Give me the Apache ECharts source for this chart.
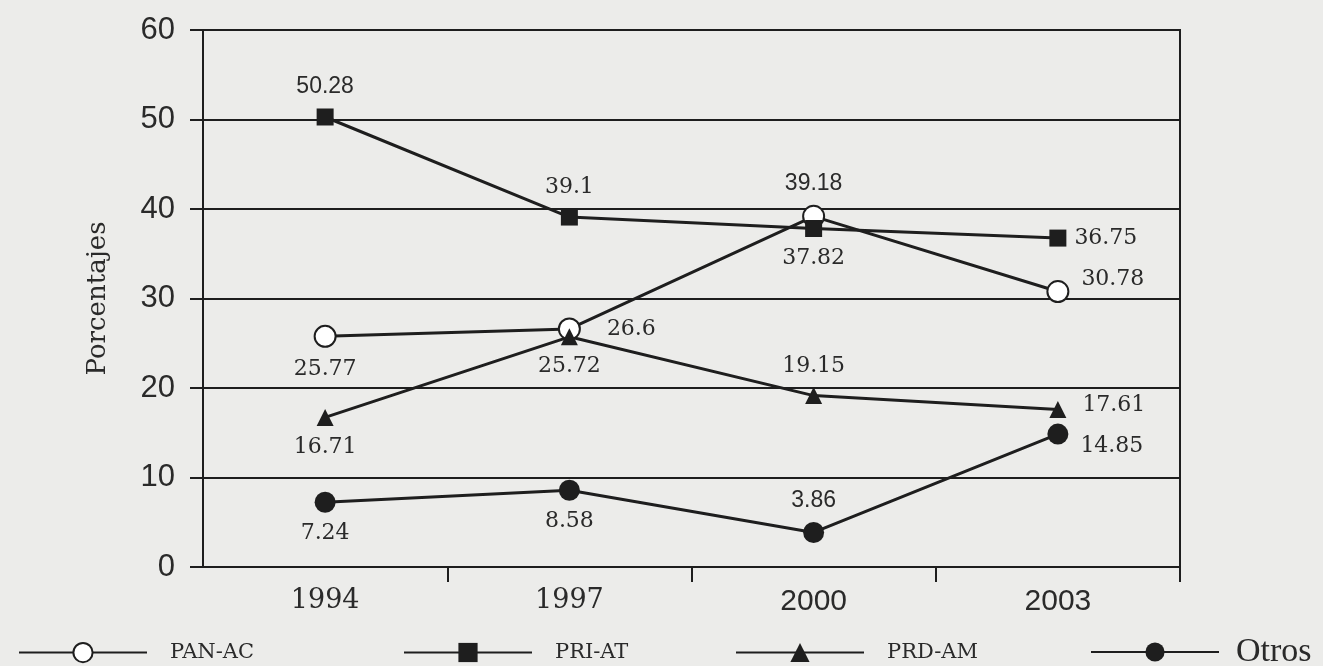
<!DOCTYPE html>
<html>
<head>
<meta charset="utf-8">
<script src="https://cdn.jsdelivr.net/npm/echarts@6/dist/echarts.min.js"></script>
<style>
html,body{margin:0;padding:0;background:#ececea;}
#c{width:1323px;height:666px;}
</style>
</head>
<body>
<div id="c"></div>
<script>
// ---- data ----
const years = ['1994', '1997', '2000', '2003'];
const panAC = [25.77, 26.6, 39.18, 30.78];
const priAT = [50.28, 39.1, 37.82, 36.75];
const prdAM = [16.71, 25.72, 19.15, 17.61];
const otros = [7.24, 8.58, 3.86, 14.85];
const yTicks = [0, 10, 20, 30, 40, 50, 60];

// ---- styling ----
const INK = '#1e1e1e';
const SERIF = '"DejaVu Serif", "Liberation Serif", serif';
const SANS = '"Liberation Sans", Arial, sans-serif';

// label placement per series & point
const labelCfg = {
  'PAN-AC': [{p:'bottom'}, {p:'right', d:26}, {p:'top', f:SANS}, {p:'right', d:12, o:[0,-12]}],
  'PRI-AT': [{p:'top', f:SANS}, {p:'top'}, {p:'bottom'}, {p:'right', d:8}],
  'PRD-AM': [{p:'bottom'}, {p:'bottom'}, {p:'top'}, {p:'right', d:16, o:[0,-4]}],
  'Otros':  [{p:'bottom'}, {p:'bottom'}, {p:'top', f:SANS}, {p:'right', d:12, o:[0,12]}]
};

function build(name, values) {
  return values.map((v, i) => {
    const c = labelCfg[name][i];
    return {
      value: v,
      label: {
        position: c.p,
        distance: c.d !== undefined ? c.d : 10,
        offset: c.o || [0, 0],
        fontFamily: c.f || SERIF,
        fontSize: c.f ? 23 : 22
      }
    };
  });
}

function mkSeries(name, values, symbol, fill, size) {
  return {
    name: name,
    type: 'line',
    data: build(name, values),
    symbol: symbol,
    symbolSize: size,
    showAllSymbol: true,
    lineStyle: {color: INK, width: 3},
    itemStyle: {color: fill, borderColor: INK, borderWidth: fill === '#fff' ? 2 : 0},
    label: {show: true, color: '#2a2a2a', formatter: p => String(p.value)},
    emphasis: {disabled: true},
    z: 3
  };
}

const chart = echarts.init(document.getElementById('c'), null, {renderer: 'canvas'});

function legendItem(name, left, top, textStyle) {
  return {
    data: [name],
    left: left,
    top: top,
    itemWidth: 128,
    itemHeight: 24,
    itemGap: 0,
    selectedMode: false,
    textStyle: Object.assign({color: '#2a2a2a', padding: [0, 0, 0, 18]}, textStyle)
  };
}

const option = {
  backgroundColor: '#ececea',
  animation: false,
  grid: {
    left: 203, right: 143, top: 30, bottom: 99,
    show: true, borderColor: INK, borderWidth: 2, backgroundColor: 'transparent'
  },
  xAxis: {
    type: 'category',
    data: years,
    boundaryGap: true,
    axisLine: {lineStyle: {color: INK, width: 2}},
    axisTick: {show: true, inside: false, length: 15, interval: (i) => i > 0 && i < years.length, lineStyle: {color: INK, width: 2}},
    axisLabel: {
      margin: 20,
      color: '#2a2a2a',
      formatter: (v, i) => (i < 2 ? '{s|' + v + '}' : '{a|' + v + '}'),
      rich: {
        s: {fontFamily: SERIF, fontSize: 27, color: '#2a2a2a'},
        a: {fontFamily: SANS, fontSize: 30, color: '#2a2a2a'}
      }
    }
  },
  yAxis: {
    type: 'value',
    min: yTicks[0],
    max: yTicks[yTicks.length - 1],
    interval: 10,
    name: 'Porcentajes',
    nameLocation: 'middle',
    nameGap: 92,
    nameTextStyle: {fontFamily: SERIF, fontSize: 26, color: '#2a2a2a'},
    axisLine: {show: true, lineStyle: {color: INK, width: 2}},
    axisTick: {show: true, inside: false, length: 13, lineStyle: {color: INK, width: 2}},
    axisLabel: {margin: 28, fontFamily: SANS, fontSize: 31, color: '#2a2a2a'},
    splitLine: {show: true, lineStyle: {color: INK, width: 2}}
  },
  legend: [
    legendItem('PAN-AC', 13, 637, {fontFamily: SERIF, fontSize: 21}),
    legendItem('PRI-AT', 398, 637, {fontFamily: SERIF, fontSize: 21}),
    legendItem('PRD-AM', 730, 637, {fontFamily: SERIF, fontSize: 21}),
    legendItem('Otros', 1085, 630, {fontFamily: '"Liberation Serif", serif', fontSize: 34, padding: [0, 0, 0, 12]})
  ],
  series: [
    mkSeries('PAN-AC', panAC, 'circle', '#fff', 21),
    mkSeries('PRI-AT', priAT, 'rect', INK, 17),
    mkSeries('PRD-AM', prdAM, 'triangle', INK, 17),
    mkSeries('Otros', otros, 'circle', INK, 21)
  ]
};
chart.setOption(option);
</script>
</body>
</html>
